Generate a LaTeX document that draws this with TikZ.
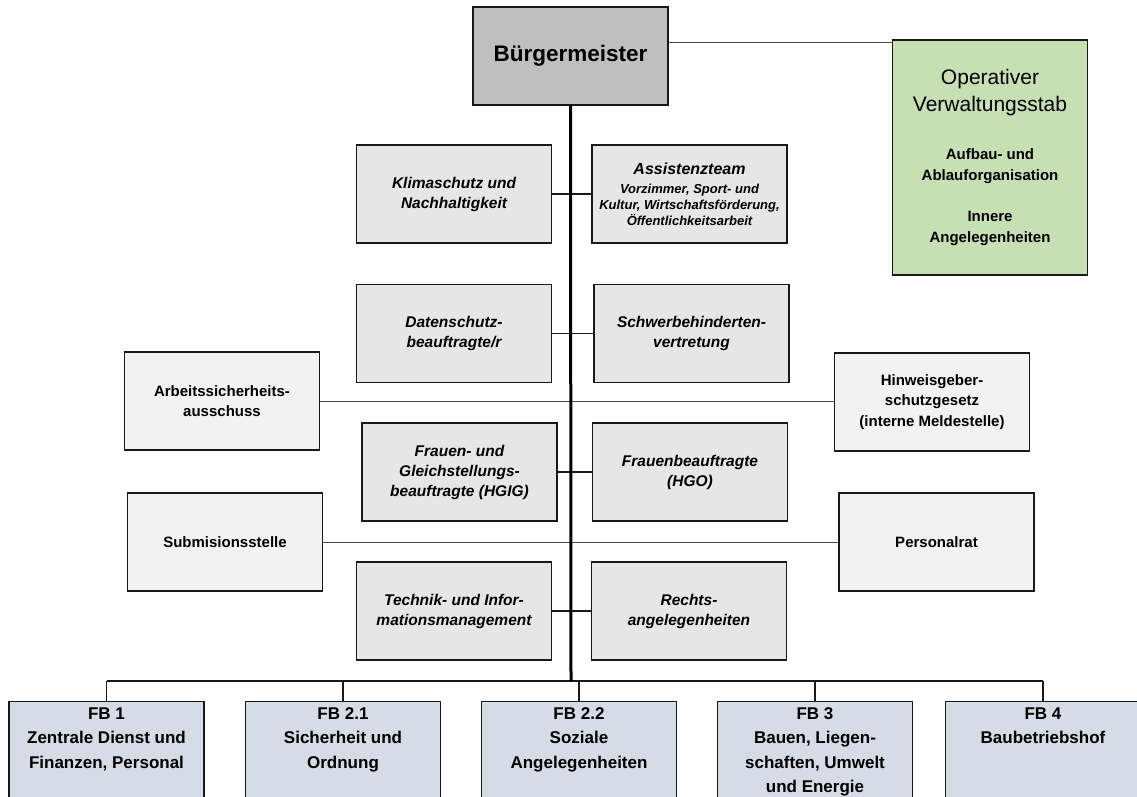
\documentclass[tikz,border=0pt]{standalone}
\usepackage{fontspec}
\setmainfont{Liberation Sans}
\usepackage{tikz}

\definecolor{bmgray}{HTML}{BFBFBF}
\definecolor{midgray}{HTML}{E6E6E6}
\definecolor{sidegray}{HTML}{F2F2F2}
\definecolor{stabgreen}{HTML}{C6E0B4}
\definecolor{fbblue}{HTML}{D6DCE5}

\tikzset{
  box/.style={draw=black!90, line width=1.4pt, minimum width=195pt, minimum height=98pt, align=center, inner sep=2pt},
  bmbox/.style={box, fill=bmgray, font=\fontsize{22.5}{27}\selectfont\bfseries},
  stabbox/.style={box, fill=stabgreen, minimum height=235pt, font=\bfseries},
  midbox/.style={box, fill=midgray, font=\fontsize{15.5}{20}\selectfont\bfseries\itshape},
  sidebox/.style={box, fill=sidegray, font=\fontsize{15}{20.7}\selectfont\bfseries},
  fbbox/.style={box, fill=fbblue, anchor=north, inner xsep=0pt, inner ysep=6pt, font=\fontsize{17}{24.3}\selectfont\bfseries},
  link/.style={draw=black!90, line width=1.3pt},
  thinlink/.style={draw=black!70, line width=0.9pt},
  trunk/.style={draw=black, line width=3pt},
  busline/.style={draw=black!90, line width=1.5pt}
}

\newcommand{\fbtext}[1]{\parbox[c][104pt][t]{190pt}{\centering #1}}

\begin{document}
\begin{tikzpicture}[x=1pt,y=-1pt]
  \useasboundingbox (0,0) rectangle (1137,796);
  \clip (0,0) rectangle (1137,796);

  % Leitung
  \node[bmbox] (bm) at (570.5,56) {Bürgermeister};
  \node[stabbox] (ovs) at (990,157.5) {\begin{minipage}{190pt}\centering
      \fontsize{21}{27}\selectfont\mdseries Operativer\\Verwaltungsstab\par
      \vspace{27pt}\fontsize{15}{21}\selectfont\bfseries Aufbau- und\\Ablauforganisation\par
      \vspace{20pt}Innere\\Angelegenheiten\par\end{minipage}};

  % Stabsstellen
  \node[midbox] (assist) at (689.5,194) {\begin{minipage}{190pt}\centering
      \fontsize{16}{20}\selectfont Assistenzteam\par
      \vspace{3pt}\fontsize{13}{16}\selectfont Vorzimmer, Sport- und\\Kultur, Wirtschaftsförderung,\\Öffentlichkeitsarbeit\par\end{minipage}};
  \foreach \pos/\name/\txt in {{(454,194)/klima/{Klimaschutz und\\Nachhaltigkeit}},
      {(454,333.5)/daten/{Datenschutz-\\beauftragte/r}}, {(691.5,333.5)/schwer/{Schwerbehinderten-\\vertretung}},
      {(459.5,472)/frauen/{Frauen- und\\Gleichstellungs-\\beauftragte (HGIG)}}, {(690,472)/frauenb/{Frauenbeauftragte\\(HGO)}},
      {(454,611)/technik/{Technik- und Infor-\\mationsmanagement}}, {(689,611)/rechts/{Rechts-\\angelegenheiten}}}
    \node[midbox] (\name) at \pos {\txt};

  \foreach \pos/\name/\txt in {{(222,401)/arb/{Arbeitssicherheits-\\ausschuss}},
      {(932,402)/hin/{Hinweisgeber-\\schutzgesetz\\(interne Meldestelle)}},
      {(225,542)/sub/{Submisionsstelle}}, {(936.5,542)/pers/{Personalrat}}}
    \node[sidebox] (\name) at \pos {\txt};

  % Fachbereiche
  \foreach \pos/\name/\txt in {{(106.5,701)/fb1/{FB 1\\Zentrale Dienst und\\Finanzen, Personal}},
      {(343,701)/fbzwei/{FB 2.1\\Sicherheit und\\Ordnung}}, {(579,701)/fbzz/{FB 2.2\\Soziale\\Angelegenheiten}},
      {(815,701)/fbdrei/{FB 3\\Bauen, Liegen-\\schaften, Umwelt\\und Energie}}, {(1043,701)/fbvier/{FB 4\\Baubetriebshof}}}
    \node[fbbox] (\name) at \pos {\fbtext{\txt}};

  \coordinate (bus) at (571,681);

  % Verbindungen
  \draw[thinlink] ([yshift=14pt]bm.east) -- ([yshift=14pt]bm.east -| ovs.west);
  \foreach \source/\dest in {klima/assist, daten/schwer, frauen/frauenb, technik/rechts}
    \path[link] (\source.east) -- (\dest.west);
  \foreach \source/\dest in {arb/hin, sub/pers}
    \path[thinlink] (\source.east) -- (\source.east -| \dest.west);
  \path[busline] (fb1.north |- bus) -- (fbvier.north |- bus);
  \foreach \dest in {fb1, fbzwei, fbzz, fbdrei, fbvier}
    \path[link, line width=1.1pt] (\dest.north |- bus) -- (\dest.north);
  \path[trunk] (bm.south) -- (bus);
\end{tikzpicture}
\end{document}
